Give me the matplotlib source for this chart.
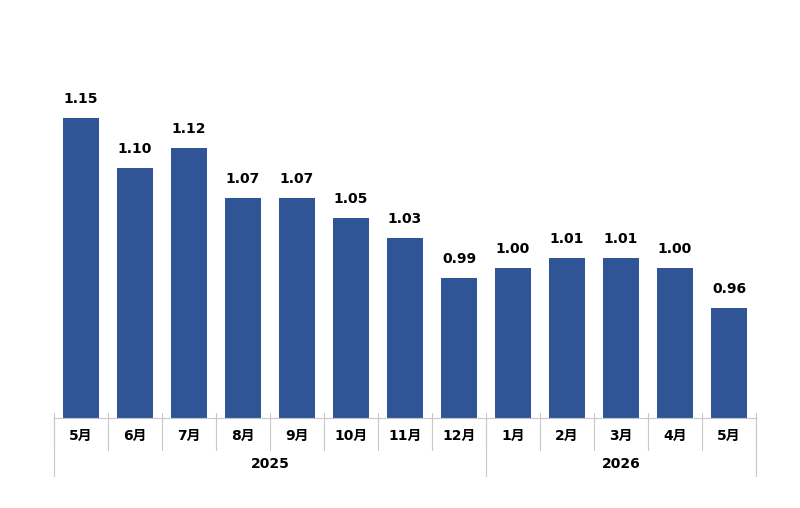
import numpy as np
import matplotlib.pyplot as plt
import matplotlib.transforms as mtransforms

plt.rcParams['font.family'] = ['DejaVu Sans', 'Noto Sans CJK JP']

months = ['5月', '6月', '7月', '8月', '9月', '10月', '11月', '12月',
          '1月', '2月', '3月', '4月', '5月']
years = ['2025', '2026']
year_counts = [8, 5]
values = [1.15, 1.10, 1.12, 1.07, 1.07, 1.05, 1.03, 0.99,
          1.00, 1.01, 1.01, 1.00, 0.96]

fig = plt.figure(figsize=(8, 5.08), dpi=100)
ax = fig.add_axes([54 / 800, 1 - 418 / 508, 702 / 800, 350 / 508])

x = np.arange(len(values))
ax.bar(x, values, width=0.667, color='#2F5597', zorder=2)
ax.set_xlim(-0.5, len(values) - 0.5)
ax.set_ylim(0.85, 1.20)

# value labels ~19 px above each bar
for xi, v in zip(x, values):
    ax.annotate(f'{v:.2f}', (xi, v), xytext=(0, 19 * 0.72), textcoords='offset points',
                ha='center', va='center', fontsize=10, fontweight='bold')

for s in ['top', 'right', 'left']:
    ax.spines[s].set_visible(False)
ax.spines['bottom'].set_color('#c8c8c8')
ax.set_yticks([])
ax.set_xticks([])

trans = mtransforms.blended_transform_factory(ax.transData, ax.transAxes)
h = 350.0
# month separators
for i in range(len(values) + 1):
    ax.plot([i - 0.5, i - 0.5], [5 / h, -32 / h], color='#c8c8c8', lw=0.8,
            transform=trans, clip_on=False)
for xi, m in zip(x, months):
    ax.text(xi, -18 / h, m, transform=trans, ha='center', va='center',
            fontsize=10, fontweight='bold')

# year separators and labels
start = 0
bounds = [-0.5]
for y, c in zip(years, year_counts):
    mid = start + (c - 1) / 2
    ax.text(mid, -46 / h, y, transform=trans, ha='center', va='center',
            fontsize=10, fontweight='bold')
    start += c
    bounds.append(start - 0.5)
for b in bounds:
    ax.plot([b, b], [0, -58 / h], color='#c8c8c8', lw=0.8,
            transform=trans, clip_on=False)

fig.savefig('out.png', dpi=100)
